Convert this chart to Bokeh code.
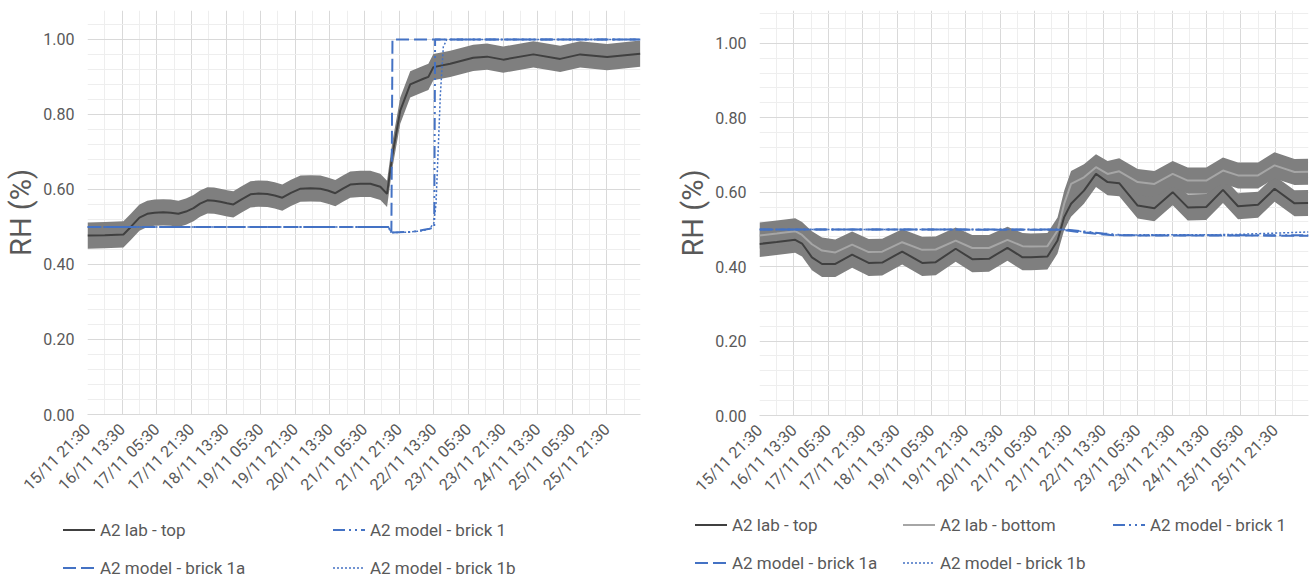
from math import pi
from bokeh.plotting import figure
from bokeh.models import Range1d, FixedTicker, NumeralTickFormatter, Div
from bokeh.layouts import row, column
from bokeh.embed import file_html
from bokeh.resources import INLINE

# ---------------- data ----------------
TICK_HOURS = [0, 16, 32, 48, 64, 80, 96, 112, 128, 144, 160, 176, 192, 208, 224, 240]
MINOR_HOURS = [8, 24, 40, 56, 72, 88, 104, 120, 136, 152, 168, 184, 200, 216, 232, 248]
TICK_LABELS = ["15/11 21:30", "16/11 13:30", "17/11 05:30", "17/11 21:30", "18/11 13:30",
               "19/11 05:30", "19/11 21:30", "20/11 13:30", "21/11 05:30", "21/11 21:30",
               "22/11 13:30", "23/11 05:30", "23/11 21:30", "24/11 13:30", "25/11 05:30",
               "25/11 21:30"]
X_END = 255.5
Y_TICKS = [0.0, 0.2, 0.4, 0.6, 0.8, 1.0]
Y_MINOR = [0.04, 0.08, 0.12, 0.16, 0.24, 0.28, 0.32, 0.36, 0.44, 0.48, 0.52, 0.56,
           0.64, 0.68, 0.72, 0.76, 0.84, 0.88, 0.92, 0.96, 1.04, 1.08]
UNC = 0.035  # measurement uncertainty band (+/-)

# left chart
L_TOP_H = [0, 8, 16.6, 20, 24, 27.6, 31, 35, 38.5, 42, 45.5, 49, 52, 55.4, 58.5, 61.4,
           64.5, 67.4, 71, 75.3, 79, 83.1, 86.5, 90, 94, 98.4, 103, 107.6, 111, 114.5,
           118, 121.4, 126, 130.7, 135.3, 138.4, 140.7, 144.5, 149.1, 155.2, 157.5,
           159.8, 167.6, 178.2, 184.6, 192.1, 206, 218.4, 227.6, 240.1, 255.4]
L_TOP_V = [0.477, 0.478, 0.48, 0.50, 0.525, 0.535, 0.538, 0.539, 0.538, 0.535, 0.541,
           0.55, 0.562, 0.571, 0.57, 0.567, 0.563, 0.56, 0.573, 0.587, 0.589, 0.588,
           0.584, 0.578, 0.591, 0.602, 0.603, 0.602, 0.597, 0.59, 0.602, 0.613, 0.615,
           0.615, 0.607, 0.588, 0.686, 0.81, 0.88, 0.895, 0.90, 0.926, 0.935, 0.951,
           0.954, 0.946, 0.96, 0.948, 0.96, 0.953, 0.962]
L_B1_H = [0, 139, 140.4, 150, 158, 160.2, 160.6, 255.5]
L_B1_V = [0.50, 0.50, 0.485, 0.487, 0.495, 0.499, 1.0, 1.0]
L_B1A_H = [0, 139, 140.4, 140.9, 255.5]
L_B1A_V = [0.50, 0.50, 0.485, 1.0, 1.0]
L_B1B_H = [0, 139, 140.4, 148, 155, 158, 160, 161, 162, 163, 164.4, 166, 255.5]
L_B1B_V = [0.50, 0.50, 0.485, 0.486, 0.49, 0.495, 0.51, 0.56, 0.70, 0.85, 0.98, 1.0, 1.0]

# right chart
R_H = [0, 8, 16.6, 19.8, 24.4, 29.1, 35.3, 43.1, 50.8, 57.1, 66.4, 75.7, 82, 91.3, 99,
       106.8, 115.4, 122.4, 126.3, 134, 138.7, 141.8, 145, 151, 156.6, 162, 167.4, 176,
       183.8, 192.3, 199.3, 207.9, 215.7, 222.7, 232, 239.7, 249, 255.3]
R_TOP_V = [0.461, 0.466, 0.472, 0.462, 0.425, 0.407, 0.407, 0.432, 0.41, 0.411, 0.4405,
           0.41, 0.412, 0.448, 0.42, 0.421, 0.4505, 0.425, 0.425, 0.427, 0.47, 0.533,
           0.569, 0.604, 0.649, 0.627, 0.624, 0.564, 0.557, 0.600, 0.559, 0.56, 0.606,
           0.562, 0.566, 0.609, 0.570, 0.571]
R_BOT_V = [0.4835, 0.489, 0.495, 0.485, 0.46, 0.443, 0.438, 0.459, 0.439, 0.44, 0.4655,
           0.445, 0.446, 0.470, 0.45, 0.45, 0.472, 0.455, 0.454, 0.455, 0.497, 0.569,
           0.622, 0.640, 0.667, 0.649, 0.656, 0.627, 0.622, 0.649, 0.631, 0.631, 0.658,
           0.645, 0.645, 0.672, 0.654, 0.655]
R_B1_H = [0, 141, 150, 160, 170, 255.5]
R_B1_V = [0.50, 0.50, 0.495, 0.489, 0.484, 0.484]
R_B1A_H = [0, 141, 150, 165, 255.5]
R_B1A_V = [0.50, 0.499, 0.492, 0.484, 0.483]
R_B1B_H = [0, 141, 150, 165, 220, 235, 255.5]
R_B1B_V = [0.50, 0.50, 0.494, 0.485, 0.486, 0.489, 0.493]

# ---------------- style ----------------
FONT = "Roboto"
TXT = "#595959"
BLUE = "#4472c4"
DARK = "#404040"
LIGHT = "#a6a6a6"
DASH_B1 = "12 4 2 4 2 4"
DASH_B1A = "13 5"
DASH_B1B = "2 2"
CHART_H = 505
LEG_H = 72


def make_fig(width, bl, br, top, frame_h, y_end):
    p = figure(width=width, height=CHART_H, output_backend="svg", toolbar_location=None,
               x_range=Range1d(0, X_END), y_range=Range1d(0, y_end),
               min_border_left=bl, min_border_right=br, min_border_top=top,
               min_border_bottom=CHART_H - top - frame_h)
    p.outline_line_color = None
    p.xaxis.ticker = FixedTicker(ticks=TICK_HOURS, minor_ticks=MINOR_HOURS)
    p.xaxis.major_label_overrides = {h: lab for h, lab in zip(TICK_HOURS, TICK_LABELS)}
    p.xaxis.major_label_orientation = pi / 4
    p.yaxis.ticker = FixedTicker(ticks=Y_TICKS, minor_ticks=Y_MINOR)
    p.yaxis.formatter = NumeralTickFormatter(format="0.00")
    for ax in (p.xaxis[0], p.yaxis[0]):
        ax.major_tick_line_color = None
        ax.minor_tick_line_color = None
        ax.major_label_text_font = FONT
        ax.major_label_text_font_size = "16px"
        ax.major_label_text_color = TXT
    p.xaxis.axis_line_color = "#d9d9d9"
    p.xaxis.major_label_standoff = 6
    p.yaxis.axis_line_color = None
    p.yaxis.major_label_standoff = 7
    p.yaxis.axis_label = "RH (%)"
    p.yaxis.axis_label_text_font = FONT
    p.yaxis.axis_label_text_font_size = "29px"
    p.yaxis.axis_label_text_font_style = "normal"
    p.yaxis.axis_label_text_color = TXT
    p.yaxis.axis_label_standoff = 2
    for g in (p.xgrid[0], p.ygrid[0]):
        g.grid_line_color = "#d9d9d9"
        g.minor_grid_line_color = "#eeeeee"
    return p


def band(p, h, v):
    p.varea(x=h, y1=[a - UNC for a in v], y2=[a + UNC for a in v],
            fill_color="#7f7f7f", fill_alpha=1.0)


def legend_div(width, entries):
    parts = []
    for label, color, lw, dash, x, y in entries:
        dash_attr = "" if dash == "solid" else ' stroke-dasharray="%s"' % dash.replace(" ", ",")
        parts.append(
            '<div style="position:absolute;left:%dpx;top:%dpx;height:18px;display:flex;'
            'align-items:center;white-space:nowrap">'
            '<svg width="32" height="18" style="display:block">'
            '<line x1="0" y1="9" x2="32" y2="9" stroke="%s" stroke-width="%s"%s/></svg>'
            '<span style="margin-left:5px">%s</span></div>'
            % (x, y, color, lw, dash_attr, label))
    html = ('<div style="position:relative;width:%dpx;height:%dpx;font-family:%s;'
            'font-size:17px;line-height:18px;color:%s">%s</div>'
            % (width, LEG_H, FONT, TXT, "".join(parts)))
    return Div(text=html, width=width, height=LEG_H, margin=0)


# ---------------- left chart ----------------
p1 = make_fig(650, 87, 10, 10, 404, 1.077)
band(p1, L_TOP_H, L_TOP_V)
p1.line(L_TOP_H, L_TOP_V, line_color=DARK, line_width=2)
p1.line(L_B1_H, L_B1_V, line_color=BLUE, line_width=2, line_dash=DASH_B1)
p1.line(L_B1A_H, L_B1A_V, line_color=BLUE, line_width=2, line_dash=DASH_B1A)
p1.line(L_B1B_H, L_B1B_V, line_color=BLUE, line_width=1.5, line_dash=DASH_B1B)
l1 = legend_div(650, [("A2 lab - top", DARK, 2, "solid", 63, 16),
                      ("A2 model - brick 1", BLUE, 2, DASH_B1, 333, 16),
                      ("A2 model - brick 1a", BLUE, 2, DASH_B1A, 63, 54),
                      ("A2 model - brick 1b", BLUE, 1.5, DASH_B1B, 333, 54)])

# ---------------- right chart ----------------
p2 = make_fig(662, 109, 4, 10, 405, 1.088)
band(p2, R_H, R_TOP_V)
band(p2, R_H, R_BOT_V)
p2.line(R_H, R_TOP_V, line_color=DARK, line_width=2)
p2.line(R_H, R_BOT_V, line_color=LIGHT, line_width=2)
p2.line(R_B1_H, R_B1_V, line_color=BLUE, line_width=2, line_dash=DASH_B1)
p2.line(R_B1A_H, R_B1A_V, line_color=BLUE, line_width=2, line_dash=DASH_B1A)
p2.line(R_B1B_H, R_B1B_V, line_color=BLUE, line_width=1.5, line_dash=DASH_B1B)
l2 = legend_div(662, [("A2 lab - top", DARK, 2, "solid", 45, 11),
                      ("A2 lab - bottom", LIGHT, 2, "solid", 253, 11),
                      ("A2 model - brick 1", BLUE, 2, DASH_B1, 463, 11),
                      ("A2 model - brick 1a", BLUE, 2, DASH_B1A, 45, 49),
                      ("A2 model - brick 1b", BLUE, 1.5, DASH_B1B, 253, 49)])

layout = row(column(p1, l1), column(p2, l2))
open("out.html", "w").write(file_html(layout, INLINE))
